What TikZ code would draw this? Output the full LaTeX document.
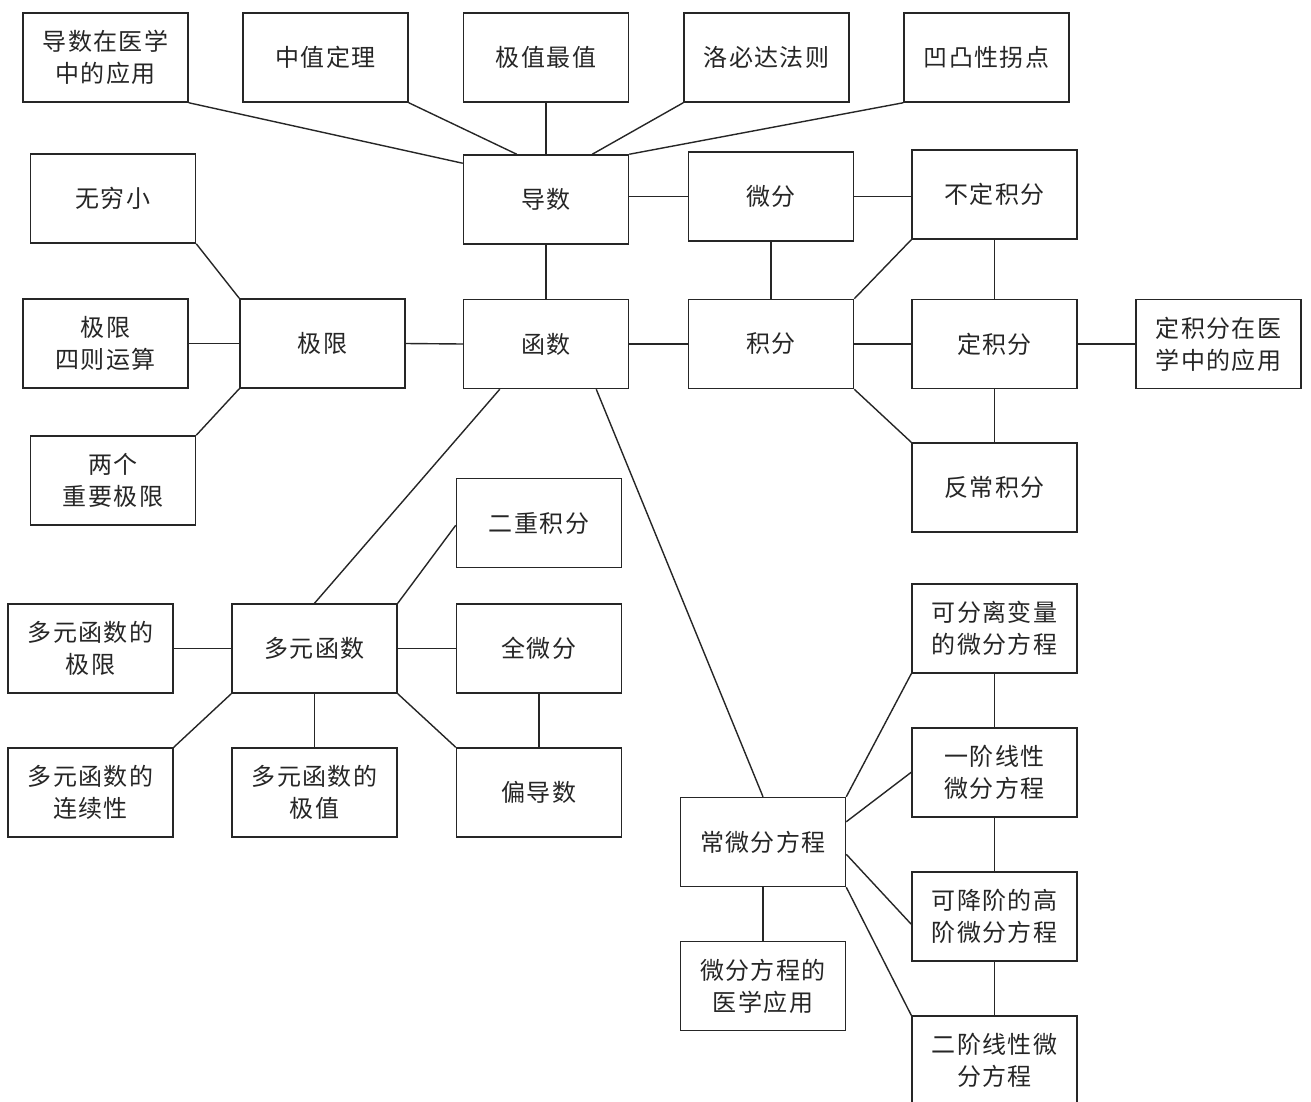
\documentclass[tikz,border=0pt]{standalone}
\usepackage{fontspec}
\newfontfamily\cjk[LetterSpace=6]{Noto Sans CJK SC}
\begin{document}
\begin{tikzpicture}[x=1pt,y=-1pt,
  box/.style={draw=black!85, line width=1.5pt, minimum width=165pt, minimum height=89pt,
    inner sep=0pt, align=center, font=\cjk\fontsize{24pt}{32pt}\selectfont, text=black!85},
  conn/.style={draw=black!85, line width=1.4pt}]
\useasboundingbox (0,0) rectangle (1311,1101);
\fill[white] (0,0) rectangle (1311,1101);
% nodes
\node[box] (med) at (105.5,57.5) {导数在医学\\中的应用};
\node[box] (zhong) at (325.5,57.5) {中值定理};
\node[box] (jizhi) at (546,57.5) {极值最值};
\node[box] (luo) at (766.5,57.5) {洛必达法则};
\node[box] (ao) at (986.5,57.5) {凹凸性拐点};
\node[box] (wuqiong) at (113,198.5) {无穷小};
\node[box] (dao) at (546,199.5) {导数};
\node[box] (weifen) at (771,196.5) {微分};
\node[box] (bu) at (994.5,194.5) {不定积分};
\node[box] (sizhe) at (105.5,343.5) {极限\\四则运算};
\node[box] (jixian) at (322.5,343.5) {极限};
\node[box] (hanshu) at (546,344) {函数};
\node[box] (jifen) at (771,344) {积分};
\node[box] (ding) at (994.5,344) {定积分};
\node[box] (dingmed) at (1218.5,344) {定积分在医\\学中的应用};
\node[box] (liangge) at (113,480.5) {两个\\重要极限};
\node[box] (fanchang) at (994.5,487.5) {反常积分};
\node[box] (erchong) at (539,523) {二重积分};
\node[box] (dyjixian) at (90.5,648.5) {多元函数的\\极限};
\node[box] (duoyuan) at (314.5,648.5) {多元函数};
\node[box] (quan) at (539,648.5) {全微分};
\node[box] (kefenli) at (994.5,628.5) {可分离变量\\的微分方程};
\node[box] (lianxu) at (90.5,792.5) {多元函数的\\连续性};
\node[box] (dyjizhi) at (314.5,792.5) {多元函数的\\极值};
\node[box] (pian) at (539,792.5) {偏导数};
\node[box] (yijie) at (994.5,772.5) {一阶线性\\微分方程};
\node[box] (changwei) at (763,842) {常微分方程};
\node[box] (kejiang) at (994.5,916.5) {可降阶的高\\阶微分方程};
\node[box] (yixue) at (763,986) {微分方程的\\医学应用};
\node[box] (erjie) at (994.5,1060.5) {二阶线性微\\分方程};
% connectors
\draw[conn] (med.south east) -- ([yshift=-9pt]dao.north west);
\draw[conn] (zhong.south east) -- ([xshift=54pt]dao.north west);
\draw[conn] (jizhi.south) -- (dao.north);
\draw[conn] (luo.south west) -- ([xshift=-37pt]dao.north east);
\draw[conn] (ao.south west) -- (dao.north east);
\draw[conn] (weifen.west) -- (weifen.west -| dao.east);
\draw[conn] (dao.south) -- (hanshu.north);
\draw[conn] (weifen.east) -- (weifen.east -| bu.west);
\draw[conn] (weifen.south) -- (jifen.north);
\draw[conn] (bu.south) -- (ding.north);
\draw[conn] (bu.south west) -- (jifen.north east);
\draw[conn] (jifen.east) -- (ding.west);
\draw[conn] (ding.east) -- (dingmed.west);
\draw[conn] (ding.south) -- (fanchang.north);
\draw[conn] (jifen.south east) -- (fanchang.north west);
\draw[conn] (hanshu.west) -- (jixian.east);
\draw[conn] (hanshu.east) -- (jifen.west);
\draw[conn] (wuqiong.south east) -- (jixian.north west);
\draw[conn] (sizhe.east) -- (jixian.west);
\draw[conn] (liangge.north east) -- (jixian.south west);
\draw[conn] ([xshift=37pt]hanshu.south west) -- (duoyuan.north);
\draw[conn] ([xshift=-33pt]hanshu.south east) -- (changwei.north);
\draw[conn] (duoyuan.north east) -- ([yshift=43pt]erchong.south west);
\draw[conn] (duoyuan.east) -- (quan.west);
\draw[conn] (duoyuan.west) -- (dyjixian.east);
\draw[conn] (duoyuan.south west) -- (lianxu.north east);
\draw[conn] (duoyuan.south) -- (dyjizhi.north);
\draw[conn] (duoyuan.south east) -- (pian.north west);
\draw[conn] (quan.south) -- (pian.north);
\draw[conn] (changwei.south) -- (yixue.north);
\draw[conn] (changwei.north east) -- (kefenli.south west);
\draw[conn] ([yshift=-25pt]changwei.north east) -- ([yshift=-45pt]yijie.north west);
\draw[conn] ([yshift=33pt]changwei.south east) -- ([yshift=-53pt]kejiang.north west);
\draw[conn] (changwei.south east) -- (erjie.north west);
\draw[conn] (kefenli.south) -- (yijie.north);
\draw[conn] (yijie.south) -- (kejiang.north);
\draw[conn] (kejiang.south) -- (erjie.north);
\end{tikzpicture}
\end{document}
